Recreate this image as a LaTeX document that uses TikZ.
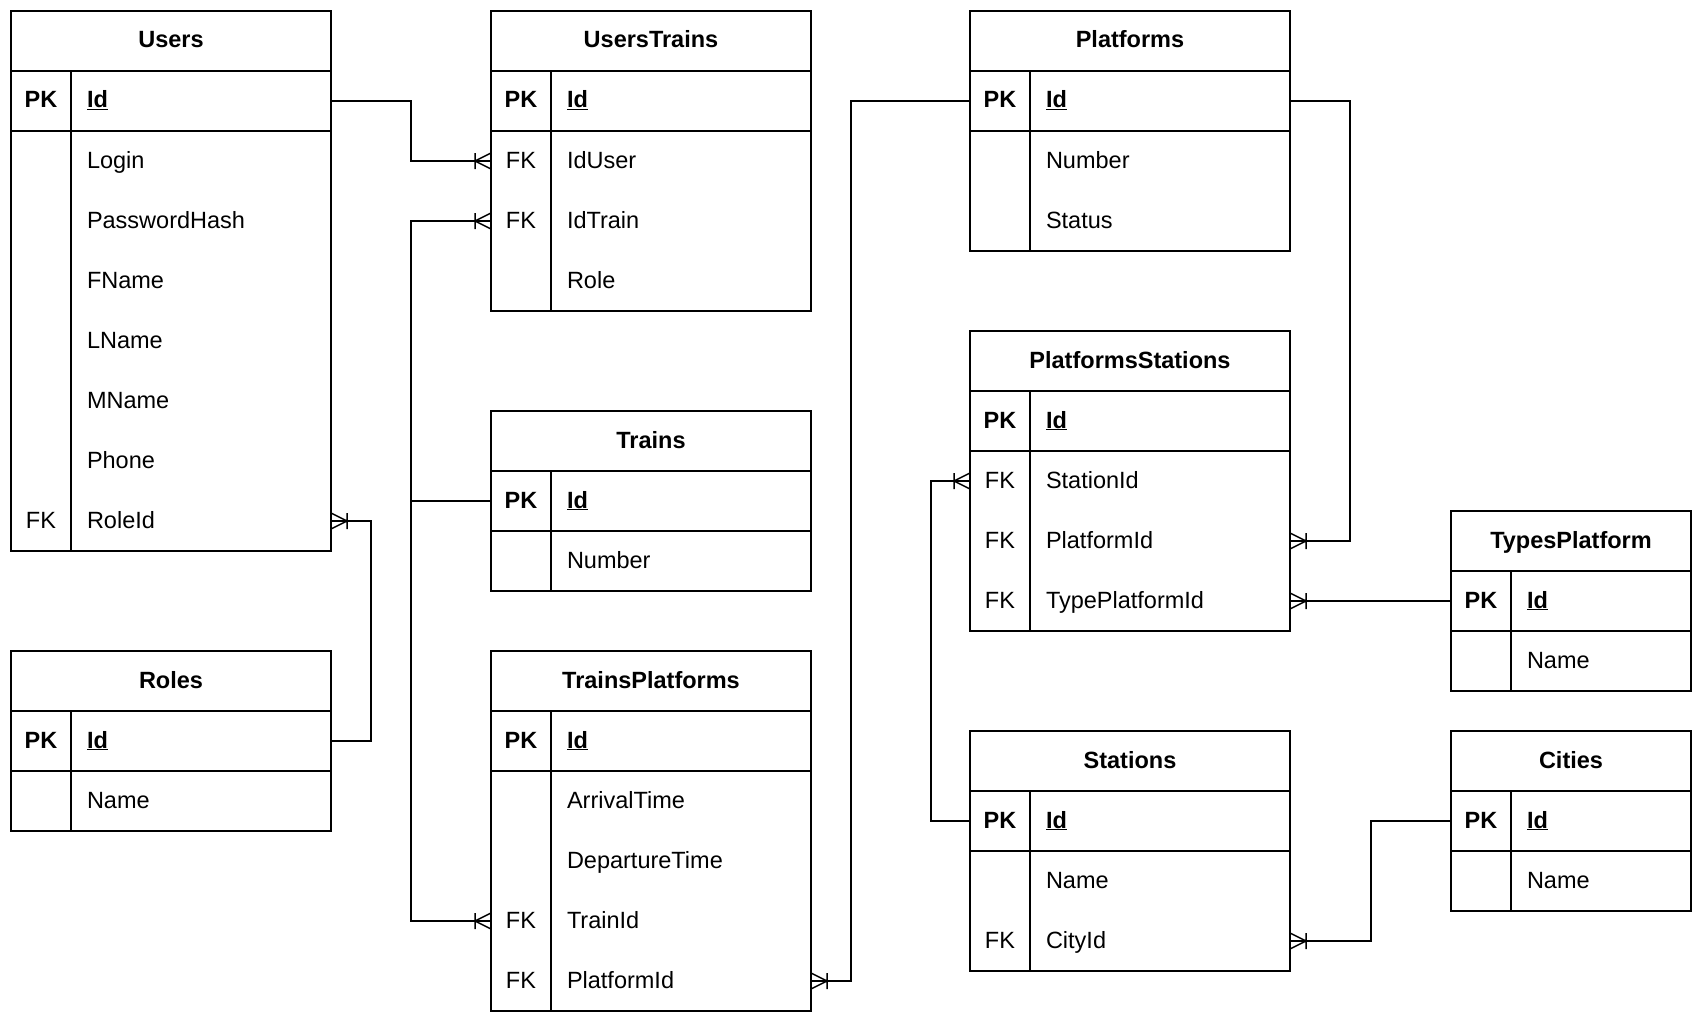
\documentclass[tikz,border=0pt]{standalone}
\usepackage{fontspec}
\setmainfont{Liberation Sans}
\usetikzlibrary{arrows.meta}

% crow's foot with a bar: "one or many" end of a relation
\pgfdeclarearrow{
  name = CrowBar,
  setup code = {
    \pgfarrowssettipend{0pt}
    \pgfarrowssetlineend{0pt}
    \pgfarrowssetbackend{-16pt}
    \pgfarrowshullpoint{0pt}{8pt}
    \pgfarrowshullpoint{0pt}{-8pt}
    \pgfarrowshullpoint{-16pt}{8pt}
    \pgfarrowshullpoint{-16pt}{-8pt}
  },
  drawing code = {
    \pgfsetroundjoin
    \pgfpathmoveto{\pgfqpoint{0pt}{8pt}}
    \pgfpathlineto{\pgfqpoint{-16pt}{0pt}}
    \pgfpathlineto{\pgfqpoint{0pt}{-8pt}}
    \pgfpathmoveto{\pgfqpoint{-16pt}{8pt}}
    \pgfpathlineto{\pgfqpoint{-16pt}{-8pt}}
    \pgfusepathqstroke
  }
}

\tikzset{
  tablebox/.style={draw, line width=1.5pt, inner sep=0pt, outer sep=0pt},
  rule/.style={line width=1.5pt},
  celltext/.style={inner sep=0pt, outer sep=0pt, text height=14pt, text depth=0pt,
    font=\fontsize{23.5}{28}\selectfont},
  keytext/.style={celltext, anchor=center},
  fieldtext/.style={celltext, anchor=west},
  titletext/.style={celltext, anchor=center, font=\fontsize{23.5}{28}\selectfont\bfseries},
  relation/.style={line width=1.5pt, -{CrowBar}},
}

% #1 name, #2 title, #3 x, #4 y, #5 width, #6 number of rows below the key row, #7 key/field rows
\newcommand\ertable[7]{%
  \pgfmathsetmacro\tblheight{120+60*#6}
  \node[tablebox, minimum width=#5, minimum height=\tblheight, anchor=north west] (#1) at (#3,#4) {};
  \node[titletext] (#1-title) at (#3+#5/2,#4+30) {#2};
  \draw[rule] (#3,#4+60) -- (#3+#5,#4+60);
  \draw[rule] (#3,#4+120) -- (#3+#5,#4+120);
  \draw[rule] (#3+60,#4+60) -- (#3+60,#4+\tblheight);
  \node[keytext] (#1-k0) at (#3+30,#4+90) {\textbf{PK}};
  \node[fieldtext] (#1-0) at (#3+76,#4+90) {\textbf{\underline{Id}}};
  \foreach \k/\f [count=\i] in {#7} {
    \node[keytext] (#1-k\i) at (#3+30,#4+90+60*\i) {\k};
    \node[fieldtext] (#1-\i) at (#3+76,#4+90+60*\i) {\f};
  }
}

\begin{document}
\begin{tikzpicture}[x=1pt, y=-1pt]
  \fill[white] (0,0) rectangle (1702,1022);
  \useasboundingbox (0,0) rectangle (1702,1022);

  \ertable{Users}{Users}{11}{11}{320}{7}{/Login, /PasswordHash, /FName, /LName, /MName, /Phone, FK/RoleId}
  \ertable{Roles}{Roles}{11}{651}{320}{1}{/Name}
  \ertable{UsersTrains}{UsersTrains}{491}{11}{320}{3}{FK/IdUser, FK/IdTrain, /Role}
  \ertable{Trains}{Trains}{491}{411}{320}{1}{/Number}
  \ertable{TrainsPlatforms}{TrainsPlatforms}{491}{651}{320}{4}{/ArrivalTime, /DepartureTime, FK/TrainId, FK/PlatformId}
  \ertable{Platforms}{Platforms}{970}{11}{320}{2}{/Number, /Status}
  \ertable{PlatformsStations}{PlatformsStations}{970}{331}{320}{3}{FK/StationId, FK/PlatformId, FK/TypePlatformId}
  \ertable{TypesPlatform}{TypesPlatform}{1451}{511}{240}{1}{/Name}
  \ertable{Stations}{Stations}{970}{731}{320}{2}{/Name, FK/CityId}
  \ertable{Cities}{Cities}{1451}{731}{240}{1}{/Name}

  % relations
  \draw[relation] (Users.east |- Users-0) -- ++(80,0) |- (UsersTrains.west |- UsersTrains-1);
  \draw[relation] (Trains.west |- Trains-0) -- ++(-80,0) |- (UsersTrains.west |- UsersTrains-2);
  \draw[relation] (Trains.west |- Trains-0) -- ++(-80,0) |- (TrainsPlatforms.west |- TrainsPlatforms-3);
  \draw[relation] (Roles.east |- Roles-0) -- ++(40,0) |- (Users.east |- Users-7);
  \draw[relation] (Platforms.west |- Platforms-0) -- ++(-119,0) |- (TrainsPlatforms.east |- TrainsPlatforms-4);
  \draw[relation] (Platforms.east |- Platforms-0) -- ++(60,0) |- (PlatformsStations.east |- PlatformsStations-2);
  \draw[relation] (TypesPlatform.west |- TypesPlatform-0) -- (PlatformsStations.east |- PlatformsStations-3);
  \draw[relation] (Stations.west |- Stations-0) -- ++(-39,0) |- (PlatformsStations.west |- PlatformsStations-1);
  \draw[relation] (Cities.west |- Cities-0) -- ++(-80,0) |- (Stations.east |- Stations-2);
\end{tikzpicture}
\end{document}
